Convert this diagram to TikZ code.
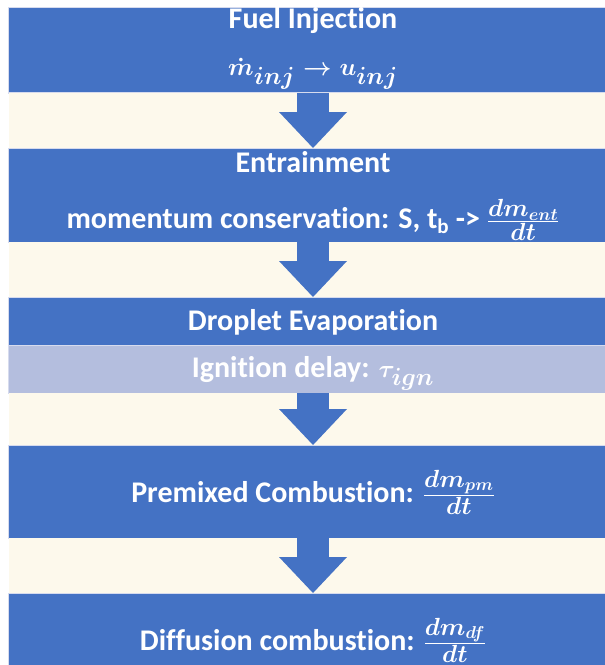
\documentclass[tikz,border=0pt]{standalone}
\usepackage{amsmath}
\usepackage{fontspec}
\setmainfont{Carlito}[Ligatures=CommonOff]
\usetikzlibrary{positioning,arrows.meta}

\definecolor{bandblue}{RGB}{68,114,196}
\definecolor{creamgap}{RGB}{253,249,236}
\definecolor{delayband}{RGB}{180,190,222}
\definecolor{bandedge}{RGB}{214,219,238}

\newcommand{\stagemath}[1]{{\fontsize{33bp}{36bp}\selectfont$#1$}}

\begin{document}
\begin{tikzpicture}[x=1bp, y=1bp, node distance=55bp, band/.style={rectangle, fill=bandblue, draw=bandedge, line width=1bp, minimum width=608bp, inner sep=0pt, outer sep=0pt}, caption/.style={anchor=base, text=white, inner sep=0pt, font=\fontsize{30bp}{34bp}\selectfont\bfseries\boldmath}, flow/.style={bandblue, line width=32bp, -{Triangle[length=36bp 0 0, width=68bp 0 0, line width=0pt 0 0]}}]

    \useasboundingbox (0,0) rectangle (605,-665);
    \clip (0,0) rectangle (605,-665);
    \fill[white] (0,0) rectangle (605,-665);

    % stages
    \node[band, minimum height=85bp] (inj) at (313,-50.5) {};
    \node[band, minimum height=94bp, below=of inj] (ent) {};
    \node[band, minimum height=48bp, below=of ent] (evap) {};
    \node[band, minimum height=48bp, fill=delayband, below=0bp of evap] (ign) {};
    \node[band, minimum height=93bp, below=52bp of ign] (pre) {};
    \node[band, minimum height=94bp, below=of pre] (dif) {};

    \node[caption] (injtitle) at ([yshift=-21bp]inj.north) {Fuel Injection};
    \node[caption] (injrate) at ([yshift=-68bp]inj.north) {\stagemath{\dot{m}_{inj} \rightarrow u_{inj}}};
    \node[caption] (enttitle) at ([yshift=-24bp]ent.north) {Entrainment};
    \node[caption] (entrate) at ([yshift=-80bp]ent.north) {momentum conservation: S, t\textsubscript{b} -> \stagemath{\frac{dm_{ent}}{dt}}};
    \node[caption] (evaptitle) at ([yshift=-33bp]evap.north) {Droplet Evaporation};
    \node[caption] (igntitle) at ([yshift=-32bp]ign.north) {Ignition delay: \stagemath{\tau_{ign}}};
    \node[caption] (pretitle) at ([yshift=-57bp]pre.north) {Premixed Combustion: \stagemath{\frac{dm_{pm}}{dt}}};
    \node[caption] (diftitle) at ([yshift=-57bp]dif.north) {Diffusion combustion: \stagemath{\frac{dm_{df}}{dt}}};

    % gaps between the stages
    \fill[creamgap] (inj.south west) rectangle (ent.north east);
    \fill[creamgap] (ent.south west) rectangle (evap.north east);
    \fill[creamgap] (ign.south west) rectangle (pre.north east);
    \fill[creamgap] (pre.south west) rectangle (dif.north east);

    \draw[flow] (inj.south) -- (ent.north);
    \draw[flow] (ent.south) -- (evap.north);
    \draw[flow] (ign.south) -- (pre.north);
    \draw[flow] (pre.south) -- (dif.north);

\end{tikzpicture}
\end{document}
